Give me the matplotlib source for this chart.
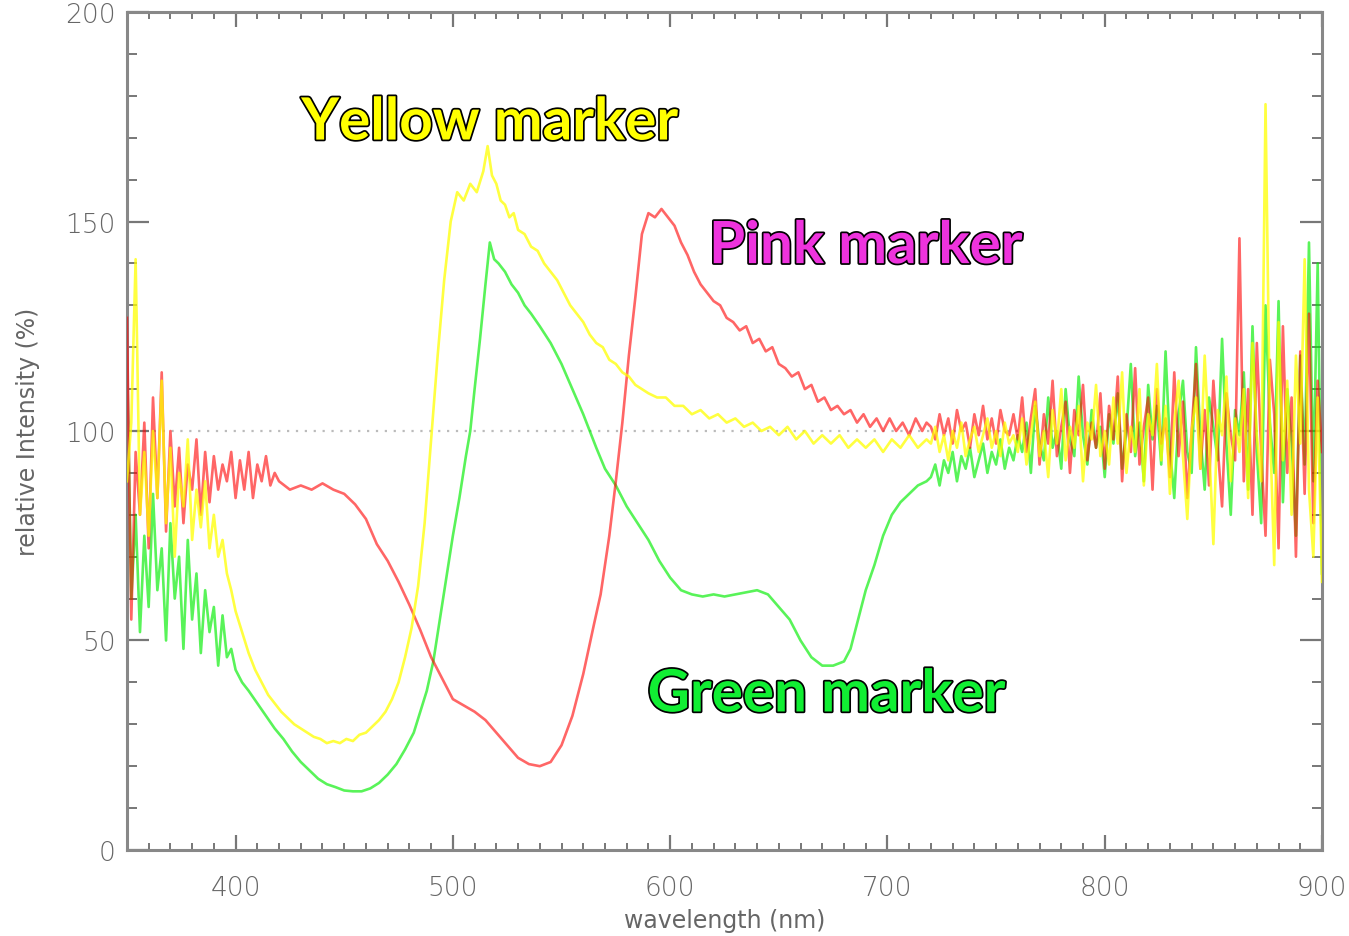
import numpy as np
import matplotlib
matplotlib.use('Agg')
import matplotlib.pyplot as plt
import matplotlib.patheffects as pe

# noisy short-wavelength part, every 2 nm from 350 to 400
short_nm = np.arange(350, 401, 2)
# noisy long-wavelength part, every 2 nm from 720 to 900
long_nm = np.arange(720, 901, 2)

red_short = [127, 55, 95, 80, 102, 72, 108, 84, 114, 76, 100, 82, 96, 78, 92, 86, 98, 80, 95, 83,
             94, 86, 92, 88, 95, 84]
red_mid_nm = [402, 404, 406, 408, 410, 412, 414, 416, 418, 420, 425, 430, 435, 440, 445, 450, 455, 460,
              465, 470, 475, 480, 485, 490, 495, 500, 505, 510, 515, 520, 525, 530, 535, 540, 545, 550,
              555, 560, 565, 568, 572, 575, 578, 581, 584, 587, 590, 593, 596, 599, 602, 605, 608, 611,
              614, 617, 620, 623, 626, 629, 632, 635, 638, 641, 644, 647, 650, 653, 656, 659, 662, 665,
              668, 671, 674, 677, 680, 683, 686, 689, 692, 695, 698, 701, 704, 707, 710, 713, 716, 718]
red_mid = [93, 86, 95, 84, 92, 88, 94, 87, 90, 88, 86, 87, 86, 87.5, 86, 85, 82.5, 79,
           73, 69, 64, 58.5, 52.5, 46, 41, 36, 34.5, 33, 31, 28, 25, 22, 20.5, 20, 21, 25,
           32, 42, 54, 61, 75, 88, 102, 118, 132, 147, 152, 151, 153, 151, 149, 145, 142, 138,
           135, 133, 131, 130, 127, 126, 124, 125, 121, 122, 119, 120, 116, 115, 113, 114, 110, 111,
           107, 108, 105, 106, 104, 105, 102, 104, 101, 103, 100, 103, 100, 102, 99, 103, 100, 102]
red_long = [101, 98, 104, 99, 103, 97, 105, 100, 102, 96, 104, 99, 106, 98, 103, 97, 105, 100, 99, 104, 98,
            108, 95, 103, 110, 92, 104, 97, 112, 94, 101, 107, 90, 105, 99, 111, 93, 102, 96, 109, 91,
            106, 98, 113, 88, 104, 95, 115, 92, 101, 108, 86, 110, 97, 103, 89, 114, 94, 107, 84, 100,
            116, 91, 105, 87, 112, 96, 82, 109, 99, 93,
            146, 88, 110, 80, 121, 95, 75, 117, 104, 72, 125, 90, 108, 70, 119, 85, 128, 78, 112, 95]

yellow_short = [88, 102, 141, 80, 95, 75, 100, 84, 112, 78, 96, 70, 90, 82, 98, 74, 86, 77, 88, 72,
                80, 70, 74, 66, 62, 57]
yellow_mid_nm = [403, 406, 409, 412, 415, 418, 421, 424, 427, 430, 433, 436, 439, 442, 445, 448, 451, 454,
                 457, 460, 463, 466, 469, 472, 475, 478, 481, 484, 487, 490, 493, 496, 499, 502, 505, 508,
                 511, 514, 516, 518, 520, 522, 524, 526, 528, 530, 533, 536, 539, 542, 545, 548, 551, 554,
                 557, 560, 563, 566, 569, 572, 575, 578, 581, 584, 587, 590, 594, 598, 602, 606, 610, 614,
                 618, 622, 626, 630, 634, 638, 642, 646, 650, 654, 658, 662, 666, 670, 674, 678, 682, 686,
                 690, 694, 698, 702, 706, 710, 714, 718]
yellow_mid = [52, 47, 43, 40, 37, 35, 33, 31.5, 30, 29, 28, 27, 26.5, 25.5, 26, 25.5, 26.5, 26,
              27.5, 28, 29.5, 31, 33, 36, 40, 46, 53, 63, 78, 98, 118, 136, 150, 157, 155, 159,
              157, 162, 168, 161, 159, 155, 154, 151, 152, 148, 147, 144, 143, 140, 138, 136, 133, 130,
              128, 126, 123, 121, 120, 117, 116, 114, 113, 111, 110, 109, 108, 108, 106, 106, 104, 105,
              103, 104, 102, 103, 101, 102, 100, 101, 99, 101, 98, 100, 97, 99, 97, 99, 96, 98,
              96, 98, 95, 98, 96, 99, 96, 98]
yellow_long = [97, 101, 95, 99, 93, 100, 96, 102, 94, 98, 101, 95, 99, 103, 96, 100, 94, 102, 97, 99, 95,
               103, 92, 99, 107, 94, 100, 89, 105, 97, 110, 93, 101, 96, 106, 88, 102, 98, 111, 94, 100,
               92, 108, 97, 114, 90, 101, 95, 110, 87, 104, 99, 116, 93, 106, 85, 102, 112, 94, 79, 100,
               108, 91, 118, 97, 73, 105, 99, 113, 88, 103,
               95, 110, 84, 121, 99, 88, 178, 102, 68, 126, 93, 112, 80, 118, 97, 141, 86, 70, 108, 64]

green_short = [120, 60, 80, 52, 75, 58, 85, 62, 72, 50, 78, 60, 70, 48, 74, 55, 66, 47, 62, 52,
               58, 44, 56, 46, 48, 43]
green_mid_nm = [403, 406, 410, 414, 418, 422, 426, 430, 434, 438, 442, 446, 450, 454, 458, 462, 466, 470,
                474, 478, 482, 485, 488, 491, 494, 497, 500, 503, 506, 508, 510, 512.5, 515, 517, 519, 521,
                524, 527, 530, 533, 536, 540, 545, 550, 555, 560, 563, 566, 570, 575, 580, 585, 590, 595,
                600, 605, 610, 615, 620, 625, 630, 635, 640, 645, 650, 655, 660, 665, 670, 675, 680, 683,
                686, 690, 694, 698, 702, 706, 710, 714, 718]
green_mid = [40, 38, 35, 32, 29, 26.5, 23.5, 21, 19, 17, 15.7, 15, 14.2, 14, 14, 14.7, 16, 18,
             20.5, 24, 28, 33, 38, 45, 55, 65, 75, 84, 94, 100, 110, 122, 135, 145, 141, 140,
             138, 135, 133, 130, 128, 125, 121, 116, 110, 104, 100, 96, 91, 87, 82, 78, 74, 69,
             65, 62, 61, 60.5, 61, 60.5, 61, 61.5, 62, 61, 58, 55, 50, 46, 44, 44, 45, 48,
             54, 62, 68, 75, 80, 83, 85, 87, 88]
green_long = [89, 92, 87, 93, 90, 95, 88, 94, 91, 96, 89, 93, 97, 90, 95, 92, 98, 91, 96, 93, 99,
              95, 102, 90, 106, 97, 93, 108, 96, 100, 91, 110, 98, 94, 113, 99, 92, 105, 96, 101, 89,
              104, 97, 109, 91, 100, 116, 94, 102, 88, 111, 98, 106, 92, 119, 96, 84, 104, 112, 95, 90,
              120, 99, 86, 108, 101, 93, 122, 97, 80, 105,
              99, 114, 86, 125, 95, 78, 130, 102, 90, 131, 83, 110, 97, 75, 118, 92, 145, 88, 140, 66]

labels = ['Yellow marker', 'Pink marker', 'Green marker']
label_pos = [(517, 173.5), (690, 144), (672, 37)]
label_colors = ['#ffff00', '#ee33dd', '#11ee33']

fig = plt.figure(figsize=(13.49, 9.37), dpi=100)
ax = fig.add_axes([0.0941, 0.0918, 0.8859, 0.8943])

ax.axhline(100, color='#bbbbbb', lw=1.6, ls=(0, (1, 3)), zorder=1)


def series(mid_nm, short, mid, long):
    x = np.concatenate([short_nm, mid_nm, long_nm])
    y = np.concatenate([short, mid, long])
    return x, y


gx, gy = series(green_mid_nm, green_short, green_mid, green_long)
rx, ry = series(red_mid_nm, red_short, red_mid, red_long)
yx, yy = series(yellow_mid_nm, yellow_short, yellow_mid, yellow_long)
ax.plot(gx, gy, color='#00ee00', lw=1.9, alpha=0.65, zorder=2)
ax.plot(rx, ry, color='#ff0000', lw=1.9, alpha=0.6, zorder=3)
ax.plot(yx, yy, color='#ffff00', lw=1.9, alpha=0.75, zorder=4)

ax.set_xlim(350, 900)
ax.set_ylim(0, 200)
ax.set_xticks([400, 500, 600, 700, 800, 900])
ax.set_xticks(np.arange(350, 901, 10), minor=True)
ax.set_yticks([0, 50, 100, 150, 200])
ax.set_yticks(np.arange(0, 201, 10), minor=True)

grey = '#666666'
for s in ax.spines.values():
    s.set_color('#888888')
    s.set_linewidth(2.2)
ax.tick_params(axis='x', which='major', direction='in', length=11, width=1.6, color='#777777',
               top=True, labelsize=19, labelcolor=grey, pad=18)
ax.tick_params(axis='x', which='minor', direction='in', length=5, width=1.4, color='#777777', top=True)
ax.tick_params(axis='y', which='major', direction='in', length=16, width=1.6, color='#777777',
               right=True, labelsize=19, labelcolor=grey, pad=8)
ax.tick_params(axis='y', which='minor', direction='in', length=7, width=1.4, color='#777777', right=True)
for t in ax.get_xticklabels() + ax.get_yticklabels():
    t.set_fontweight('light')

ax.set_xlabel('wavelength (nm)', fontsize=17, color=grey, labelpad=6)
ax.set_ylabel('relative Intensity (%)', fontsize=17, color=grey, labelpad=18)

for txt, (lx, ly), c in zip(labels, label_pos, label_colors):
    ax.text(lx, ly, txt, fontsize=42, fontweight='bold', family='Lato', color=c,
            ha='center', va='center', zorder=6,
            path_effects=[pe.Stroke(linewidth=2.5, foreground='black'), pe.Normal()])

fig.savefig('out.png', dpi=100)
